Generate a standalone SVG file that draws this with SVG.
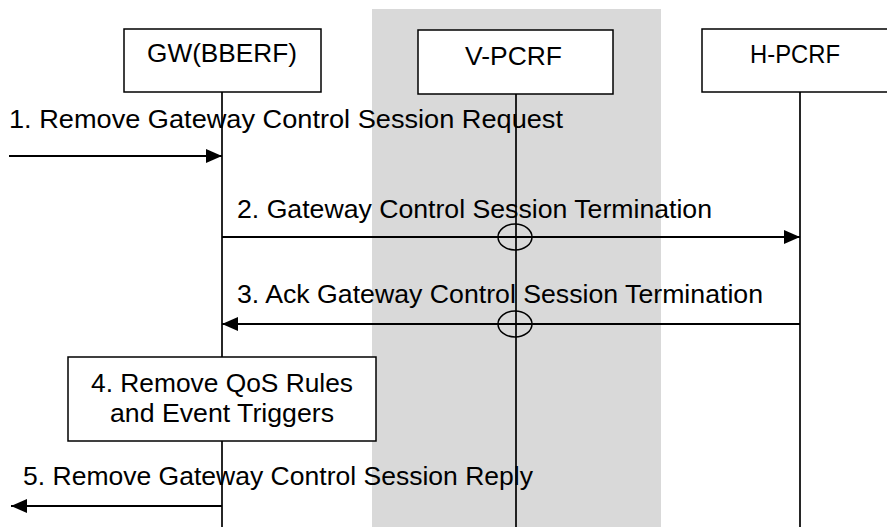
<svg xmlns="http://www.w3.org/2000/svg" width="887" height="527" viewBox="0 0 887 527">
<defs>
<style>
.t{font-family:"Liberation Sans",Arial,sans-serif;font-size:25px;fill:#000}
.box{fill:#fff;stroke:#000;stroke-width:1.5}
.life{stroke:#000;stroke-width:1.7;fill:none}
.msg{stroke:#000;stroke-width:2;fill:none}
.ring{fill:none;stroke:#000;stroke-width:1.5}
</style>
<marker id="ah" markerWidth="16" markerHeight="14" refX="16" refY="7" orient="auto" markerUnits="userSpaceOnUse">
<path d="M0,0 L16,7 L0,14 Z" fill="#000"/>
</marker>
</defs>
<rect width="887" height="527" fill="#fff"/>
<rect x="372" y="9" width="289" height="518" fill="#d9d9d9"/>

<g id="lifelines">
<line class="life" x1="222" y1="92" x2="222" y2="527"/>
<line class="life" x1="516" y1="94" x2="516" y2="527"/>
<line class="life" x1="800" y1="92" x2="800" y2="527"/>
</g>

<g id="gw">
<rect class="box" x="124" y="29" width="197" height="63"/>
<text class="t" x="147" y="62" textLength="150" lengthAdjust="spacingAndGlyphs">GW(BBERF)</text>
</g>
<g id="vpcrf">
<rect class="box" x="418" y="30" width="195" height="64"/>
<text class="t" x="465" y="65" textLength="97" lengthAdjust="spacingAndGlyphs">V-PCRF</text>
</g>
<g id="hpcrf">
<rect class="box" x="702" y="29" width="196" height="63"/>
<text class="t" x="750" y="63" textLength="90" lengthAdjust="spacingAndGlyphs">H-PCRF</text>
</g>

<g id="connectors">
<line class="msg" x1="9" y1="156" x2="222" y2="156" marker-end="url(#ah)"/>
<line class="msg" x1="222" y1="237" x2="800" y2="237" marker-end="url(#ah)"/>
<line class="msg" x1="800" y1="324" x2="222" y2="324" marker-end="url(#ah)"/>
<line class="msg" x1="222" y1="506" x2="11" y2="506" marker-end="url(#ah)"/>
<ellipse class="ring" cx="515" cy="237" rx="17" ry="13"/>
<ellipse class="ring" cx="515" cy="324" rx="17" ry="13"/>
</g>

<g id="labels">
<text class="t" x="9" y="128" textLength="554" lengthAdjust="spacingAndGlyphs">1. Remove Gateway Control Session Request</text>
<text class="t" x="237" y="218" textLength="475" lengthAdjust="spacingAndGlyphs">2. Gateway Control Session Termination</text>
<text class="t" x="237" y="303" textLength="526" lengthAdjust="spacingAndGlyphs">3. Ack Gateway Control Session Termination</text>
<text class="t" x="23" y="485" textLength="510" lengthAdjust="spacingAndGlyphs">5. Remove Gateway Control Session Reply</text>
</g>

<g id="step4">
<rect class="box" x="68" y="357" width="308" height="84"/>
<text class="t" x="91" y="392" textLength="262" lengthAdjust="spacingAndGlyphs">4. Remove QoS Rules</text>
<text class="t" x="110" y="422" textLength="224" lengthAdjust="spacingAndGlyphs">and Event Triggers</text>
</g>
</svg>
